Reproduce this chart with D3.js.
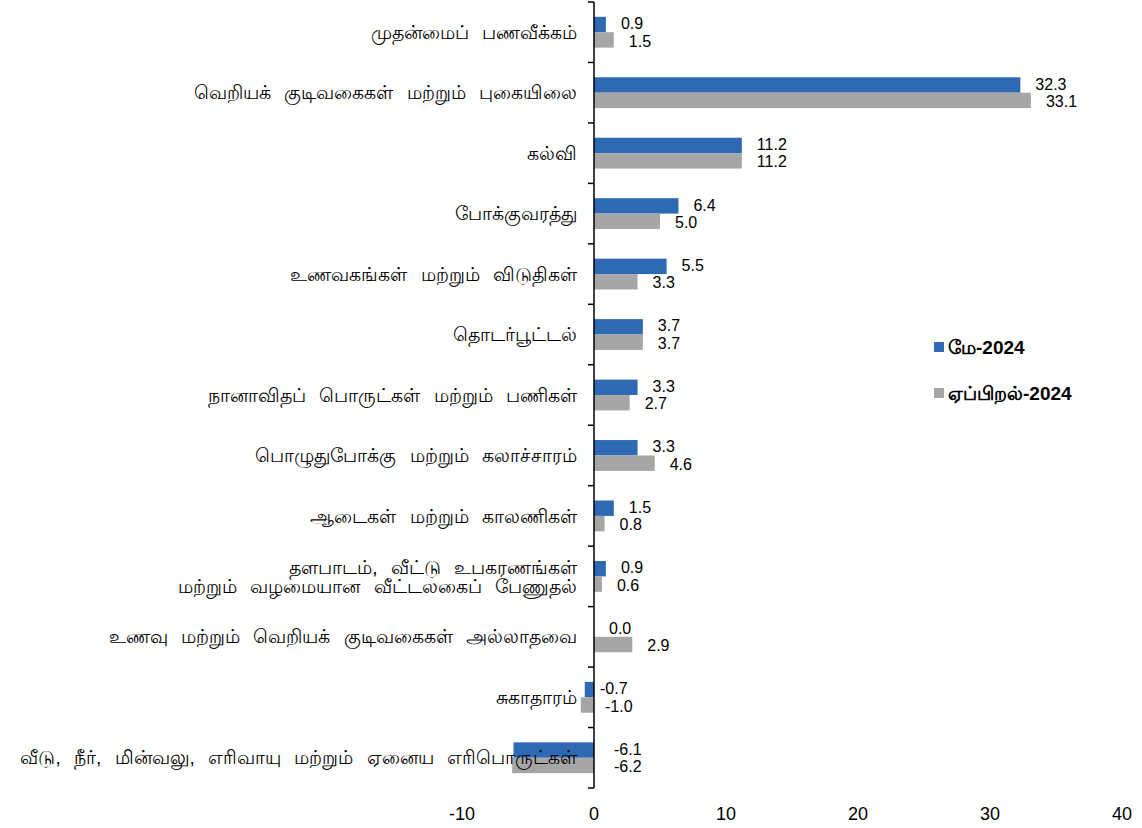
<!DOCTYPE html>
<html>
<head>
<meta charset="utf-8">
<script src="https://cdn.jsdelivr.net/npm/d3@7"></script>
<style>
  body { margin: 0; background: #fff; }
  text { font-family: "Liberation Sans", Arial, sans-serif; fill: #000; }
</style>
</head>
<body>
<svg id="chart" width="1142" height="828"></svg>
<script>
// categories, top to bottom (long ones split into lines)
const categories = [
  ["முதன்மைப் பணவீக்கம்"],
  ["வெறியக் குடிவகைகள் மற்றும் புகையிலை"],
  ["கல்வி"],
  ["போக்குவரத்து"],
  ["உணவகங்கள் மற்றும் விடுதிகள்"],
  ["தொடர்பூட்டல்"],
  ["நானாவிதப் பொருட்கள் மற்றும் பணிகள்"],
  ["பொழுதுபோக்கு மற்றும் கலாச்சாரம்"],
  ["ஆடைகள் மற்றும் காலணிகள்"],
  ["தளபாடம், வீட்டு உபகரணங்கள்", "மற்றும் வழமையான வீட்டலகைப் பேணுதல்"],
  ["உணவு மற்றும் வெறியக் குடிவகைகள் அல்லாதவை"],
  ["சுகாதாரம்"],
  ["வீடு, நீர், மின்வலு, எரிவாயு மற்றும் ஏனைய எரிபொருட்கள்"]
];
const may2024 = [0.9, 32.3, 11.2, 6.4, 5.5, 3.7, 3.3, 3.3, 1.5, 0.9, 0.0, -0.7, -6.1];
const apr2024 = [1.5, 33.1, 11.2, 5.0, 3.3, 3.7, 2.7, 4.6, 0.8, 0.6, 2.9, -1.0, -6.2];
const seriesNames = ["மே-2024", "ஏப்பிறல்-2024"];
const seriesColors = ["#2e6ab3", "#a6a6a6"];
const xTicks = [-10, 0, 10, 20, 30, 40];

const svg = d3.select("#chart");

const x = d3.scaleLinear().domain([-10, 40]).range([462, 1122]);
const idx = d3.range(categories.length);
const y = d3.scaleBand().domain(idx).range([2, 788]).paddingInner(0.49).paddingOuter(0.245);
const ySub = d3.scaleBand().domain([0, 1]).range([0, y.bandwidth()]);
const step = y.step();

const series = [may2024, apr2024];

// bars
series.forEach((vals, s) => {
  svg.append("g")
    .selectAll("rect")
    .data(vals)
    .join("rect")
    .attr("x", d => x(Math.min(0, d)))
    .attr("y", (d, i) => y(i) + ySub(s))
    .attr("width", d => Math.abs(x(d) - x(0)))
    .attr("height", ySub.bandwidth())
    .attr("fill", seriesColors[s]);
});

// value labels
series.forEach((vals, s) => {
  svg.append("g")
    .selectAll("text")
    .data(vals)
    .join("text")
    .attr("x", d => d >= 0 ? x(d) + 15 : x(0) + (d < -3 ? 20 : 6 + s * 5))
    .attr("y", (d, i) => y(i) + ySub(s) + ySub.bandwidth() / 2 + (s === 0 ? -1 : 1))
    .attr("dy", "0.35em")
    .attr("font-size", 16)
    .text(d => d.toFixed(1));
});

// category axis line with ticks at band boundaries
const x0 = x(0);
svg.append("line")
  .attr("x1", x0).attr("x2", x0)
  .attr("y1", 2).attr("y2", 788)
  .attr("stroke", "#000").attr("stroke-width", 1.5);
svg.append("g")
  .selectAll("line")
  .data(d3.range(categories.length + 1))
  .join("line")
  .attr("x1", x0 - 6).attr("x2", x0)
  .attr("y1", i => 2 + i * step).attr("y2", i => 2 + i * step)
  .attr("stroke", "#000").attr("stroke-width", 1.5);

// category labels
const labels = svg.append("g")
  .selectAll("text")
  .data(categories)
  .join("text")
  .attr("text-anchor", "end")
  .attr("font-size", 19)
  .attr("word-spacing", 8)
  .attr("y", (d, i) => y(i) + y.bandwidth() / 2);
labels.selectAll("tspan")
  .data(d => d.map((t, k) => ({ t, k, n: d.length })))
  .join("tspan")
  .attr("x", 577)
  .attr("dy", d => d.k === 0 ? (0.35 - (d.n - 1) * 0.5) + "em" : "1.0em")
  .text(d => d.t);

// x axis tick labels (no line)
svg.append("g")
  .selectAll("text")
  .data(xTicks)
  .join("text")
  .attr("x", d => x(d))
  .attr("y", 820)
  .attr("text-anchor", "middle")
  .attr("font-size", 18)
  .text(d => d);

// legend
const legend = svg.append("g")
  .selectAll("g")
  .data(seriesNames)
  .join("g")
  .attr("transform", (d, i) => `translate(934, ${347 + i * 46})`);
legend.append("rect")
  .attr("x", 0).attr("y", -5)
  .attr("width", 10).attr("height", 10)
  .attr("fill", (d, i) => seriesColors[i]);
legend.append("text")
  .attr("x", 14).attr("y", 0).attr("dy", "0.35em")
  .attr("font-size", 19)
  .attr("font-weight", "bold")
  .text(d => d);
</script>
</body>
</html>
